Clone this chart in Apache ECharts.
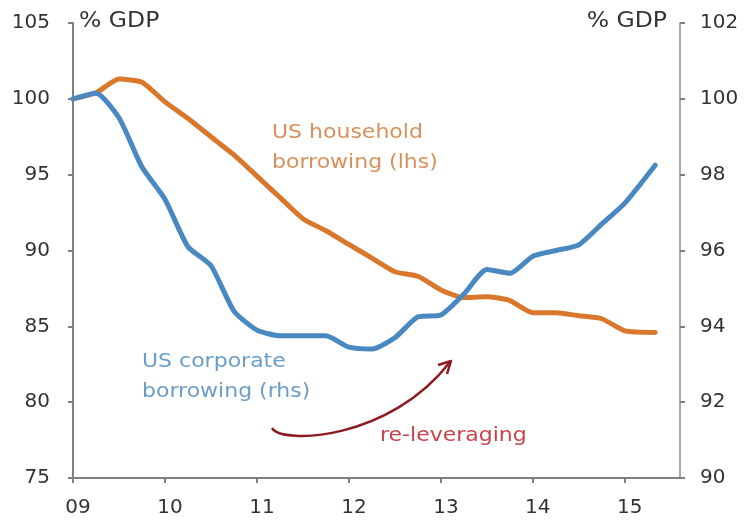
<!DOCTYPE html>
<html>
<head>
<meta charset="utf-8">
<script src="https://cdn.jsdelivr.net/npm/echarts@6/dist/echarts.min.js"></script>
<style>html,body{margin:0;padding:0;background:#fff}#c{width:744px;height:521px}</style>
</head>
<body>
<div id="c"></div>
<script>
// dates (year fraction)
const dates = [2009.00,2009.25,2009.50,2009.75,2010.00,2010.25,2010.50,2010.75,2011.00,2011.25,2011.50,2011.75,2012.00,2012.25,2012.50,2012.75,2013.00,2013.25,2013.50,2013.75,2014.00,2014.25,2014.50,2014.75,2015.00,2015.33];
// US household borrowing, % GDP (lhs, rebased)
const household = [100.0,100.4,101.3,101.1,99.8,98.7,97.5,96.3,94.9,93.5,92.1,91.3,90.4,89.5,88.6,88.3,87.4,86.9,86.95,86.7,85.9,85.9,85.7,85.5,84.7,84.6];
// US corporate borrowing, % GDP (rhs, rebased)
const corporate = [100.0,100.15,99.5,98.2,97.35,96.1,95.6,94.4,93.9,93.75,93.75,93.75,93.45,93.4,93.7,94.25,94.3,94.85,95.5,95.4,95.85,96.0,96.15,96.7,97.25,98.25];
const leftTicks = {min:75, max:105, interval:5};
const rightTicks = {min:90, max:102, interval:2};

const chart = echarts.init(document.getElementById('c'));
const axisCol = '#808080';
const tickFamily = 'DejaVu Sans, sans-serif';
const labelFont = {color:'#333', fontSize:20, fontFamily:tickFamily};
const annFont = 'DejaVu Sans, sans-serif';
chart.setOption({
  animation:false,
  grid:{left:73, right:64, top:23, bottom:43},
  xAxis:{type:'value', min:2009, max:2015.6, interval:1,
    axisLine:{lineStyle:{color:axisCol, width:2}},
    axisTick:{show:true, length:5, lineStyle:{color:axisCol, width:2}},
    splitLine:{show:false},
    axisLabel:Object.assign({margin:20, padding:[0,0,0,10], showMaxLabel:false, formatter:v=>String(v).slice(2)}, labelFont)
  },
  yAxis:[
    {type:'value', min:leftTicks.min, max:leftTicks.max, interval:leftTicks.interval, position:'left',
      axisLine:{show:true, lineStyle:{color:axisCol, width:2}},
      axisTick:{show:true, length:5, lineStyle:{color:axisCol, width:2}},
      splitLine:{show:false},
      axisLabel:Object.assign({margin:23}, labelFont)},
    {type:'value', min:rightTicks.min, max:rightTicks.max, interval:rightTicks.interval, position:'right',
      axisLine:{show:true, lineStyle:{color:'#aaa', width:2}},
      axisTick:{show:true, length:5, lineStyle:{color:axisCol, width:2}},
      splitLine:{show:false},
      axisLabel:Object.assign({margin:20}, labelFont)}
  ],
  series:[
    {type:'line', yAxisIndex:0, data:dates.map((d,i)=>[d,household[i]]), showSymbol:false, smooth:0.2,
      lineStyle:{color:'#D9782D', width:5, cap:'round', join:'round'}},
    {type:'line', yAxisIndex:1, data:dates.map((d,i)=>[d,corporate[i]]), showSymbol:false, smooth:0.2,
      lineStyle:{color:'#4A88C2', width:5, cap:'round', join:'round'}}
  ],
  graphic:[
    {type:'text', x:79, y:11, scaleX:1.12, style:{text:'% GDP', fill:'#333', font:'21px '+tickFamily}},
    {type:'text', x:667, y:11, scaleX:1.12, style:{text:'% GDP', fill:'#333', font:'21px '+tickFamily, align:'right'}},
    {type:'text', x:272, y:118, scaleX:1.1, style:{text:'US household\nborrowing (lhs)', fill:'#D8915A', font:'20px '+annFont, lineHeight:30}},
    {type:'text', x:142, y:347, scaleX:1.1, style:{text:'US corporate\nborrowing (rhs)', fill:'#6C9DC8', font:'20px '+annFont, lineHeight:30}},
    {type:'text', x:380, y:426, scaleX:1.1, style:{text:'re-leveraging', fill:'#C8444A', font:'20px '+annFont, lineHeight:20}},
    {type:'bezierCurve', shape:{x1:272,y1:428,cpx1:282,cpy1:445,cpx2:390,cpy2:440,x2:450,y2:362},
      style:{stroke:'#8E1B22', lineWidth:2.5, fill:null}},
    {type:'polyline', shape:{points:[[438,365],[451,361],[447,374]]},
      style:{stroke:'#8E1B22', lineWidth:2.5, fill:null, lineJoin:'round'}}
  ]
});
</script>
</body>
</html>
